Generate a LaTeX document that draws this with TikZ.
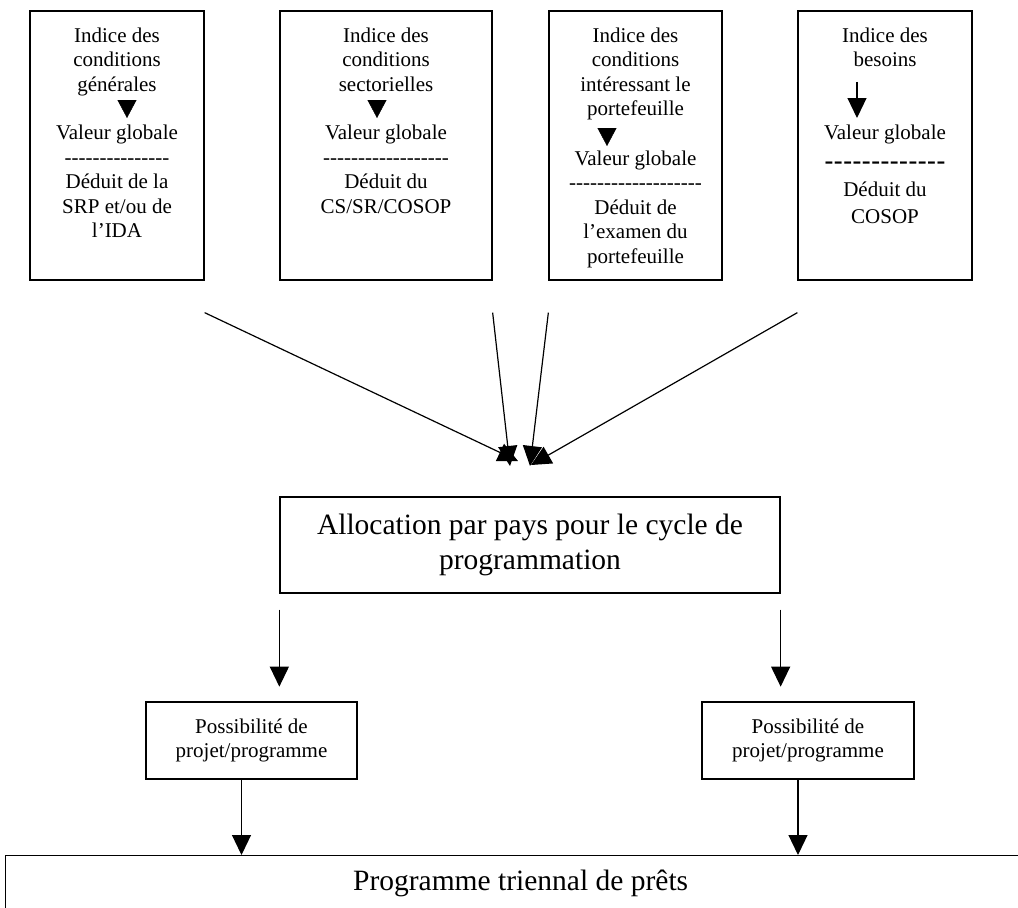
\documentclass[tikz,border=0pt]{standalone}
\usepackage{fontspec}
\setmainfont{Liberation Serif}[Ligatures=TeXOff]
\newfontfamily\dashfont{Liberation Sans}[Ligatures=TeXOff]
\usetikzlibrary{arrows.meta}
\tikzset{
  box/.style={draw, line width=1.3pt, inner sep=0},
  lbl/.style={align=center, inner sep=0, font=\fontsize{21}{24.5}\selectfont},
  big/.style={align=center, font=\fontsize{29.5}{35}\selectfont},
  arr/.style={line width=1.2pt, -{Triangle[length=20pt,width=19pt]}},
  tri/.style={-{Triangle[length=18pt,width=19pt]}}
}
\begin{document}
\begin{tikzpicture}[x=1pt,y=-1pt]
            \useasboundingbox (0,0) rectangle (1018,908);
            \clip (0,0) rectangle (1018,908);

            % the four indices
            \node (b1) at (117,145.5) [box, minimum width=174, minimum height=269] {};
            \node (t1) at (117,27.7) [lbl, anchor=north] {Indice des\\conditions\\générales};
            \node (v1) at (117,125.2) [lbl, anchor=north] {Valeur globale\\---------------\\Déduit de la\\SRP et/ou de\\l’IDA};
            \draw[tri, shorten <=4.4pt, shorten >=7.2pt] ([xshift=10pt]t1.south) -- ([xshift=10pt]v1.north);

            \node (b2) at (386,145.5) [box, minimum width=212, minimum height=269] {};
            \node (t2) at (386,27.7) [lbl, anchor=north] {Indice des\\conditions\\sectorielles};
            \node (v2) at (386,125.2) [lbl, anchor=north] {Valeur globale\\------------------\\Déduit du\\CS/SR/COSOP};
            \draw[tri, shorten <=9pt, shorten >=7.2pt] ([xshift=-9pt]t2.south) -- ([xshift=-9pt]v2.north);

            \node (b3) at (635.5,145.5) [box, minimum width=173, minimum height=269] {};
            \node (t3) at (635.5,27.7) [lbl, anchor=north] {Indice des\\conditions\\intéressant le\\portefeuille};
            \node (v3) at (635.5,150.7) [lbl, anchor=north] {Valeur globale\\-------------------\\Déduit de\\l’examen du\\portefeuille};
            \draw[tri, shorten <=7.9pt, shorten >=4.7pt] ([xshift=-28.5pt]t3.south) -- ([xshift=-28.5pt]v3.north);

            \node (b4) at (885,145.5) [box, minimum width=174, minimum height=269] {};
            \node (t4) at (885,27.7) [lbl, anchor=north] {Indice des\\besoins};
            \node (v4) at (885,125.2) [lbl, anchor=north] {Valeur globale\\[6pt]{\dashfont\fontsize{28}{24.5}\selectfont -------------}\\[2pt]Déduit du\\[2pt]COSOP};
            \draw[arr, shorten <=14.5pt, shorten >=7.2pt] ([xshift=-28pt]t4.south) -- ([xshift=-28pt]v4.north);

            % allocation
            \node (al) at (530,545) [box, big, minimum width=500, minimum height=96] {Allocation par pays pour le cycle de\\programmation};
            \coordinate (e1) at (518,461);
            \coordinate (e2) at (510,466);
            \coordinate (e3) at (530,466);
            \coordinate (e4) at (531,465);
            \draw[arr] ([yshift=-32pt]b1.south east) -- (e1);
            \draw[arr] ([yshift=-32pt]b2.south east) -- (e2);
            \draw[arr] ([yshift=-32pt]b3.south west) -- (e3);
            \draw[arr] ([yshift=-32pt]b4.south west) -- (e4);

            % possibilities
            \node (p1) at (251.5,740.5) [box, lbl, minimum width=211, minimum height=77] {Possibilité de\\projet/programme};
            \node (p2) at (808,740.5) [box, lbl, minimum width=212, minimum height=77] {Possibilité de\\projet/programme};
            \draw[arr] ([yshift=-16pt]al.south west) -- ([yshift=-93pt]al.south west);
            \draw[arr] ([yshift=-16pt]al.south east) -- ([yshift=-93pt]al.south east);

            % lending programme
            \node (pt) at (5,855) [box, big, anchor=north west, minimum width=1030, minimum height=56] {Programme triennal de prêts};
            \draw[arr] ([xshift=-10pt]p1.south) -- ([xshift=-10pt]p1.south |- pt.north);
            \draw[arr] ([xshift=-10pt]p2.south) -- ([xshift=-10pt]p2.south |- pt.north);
\end{tikzpicture}
\end{document}
